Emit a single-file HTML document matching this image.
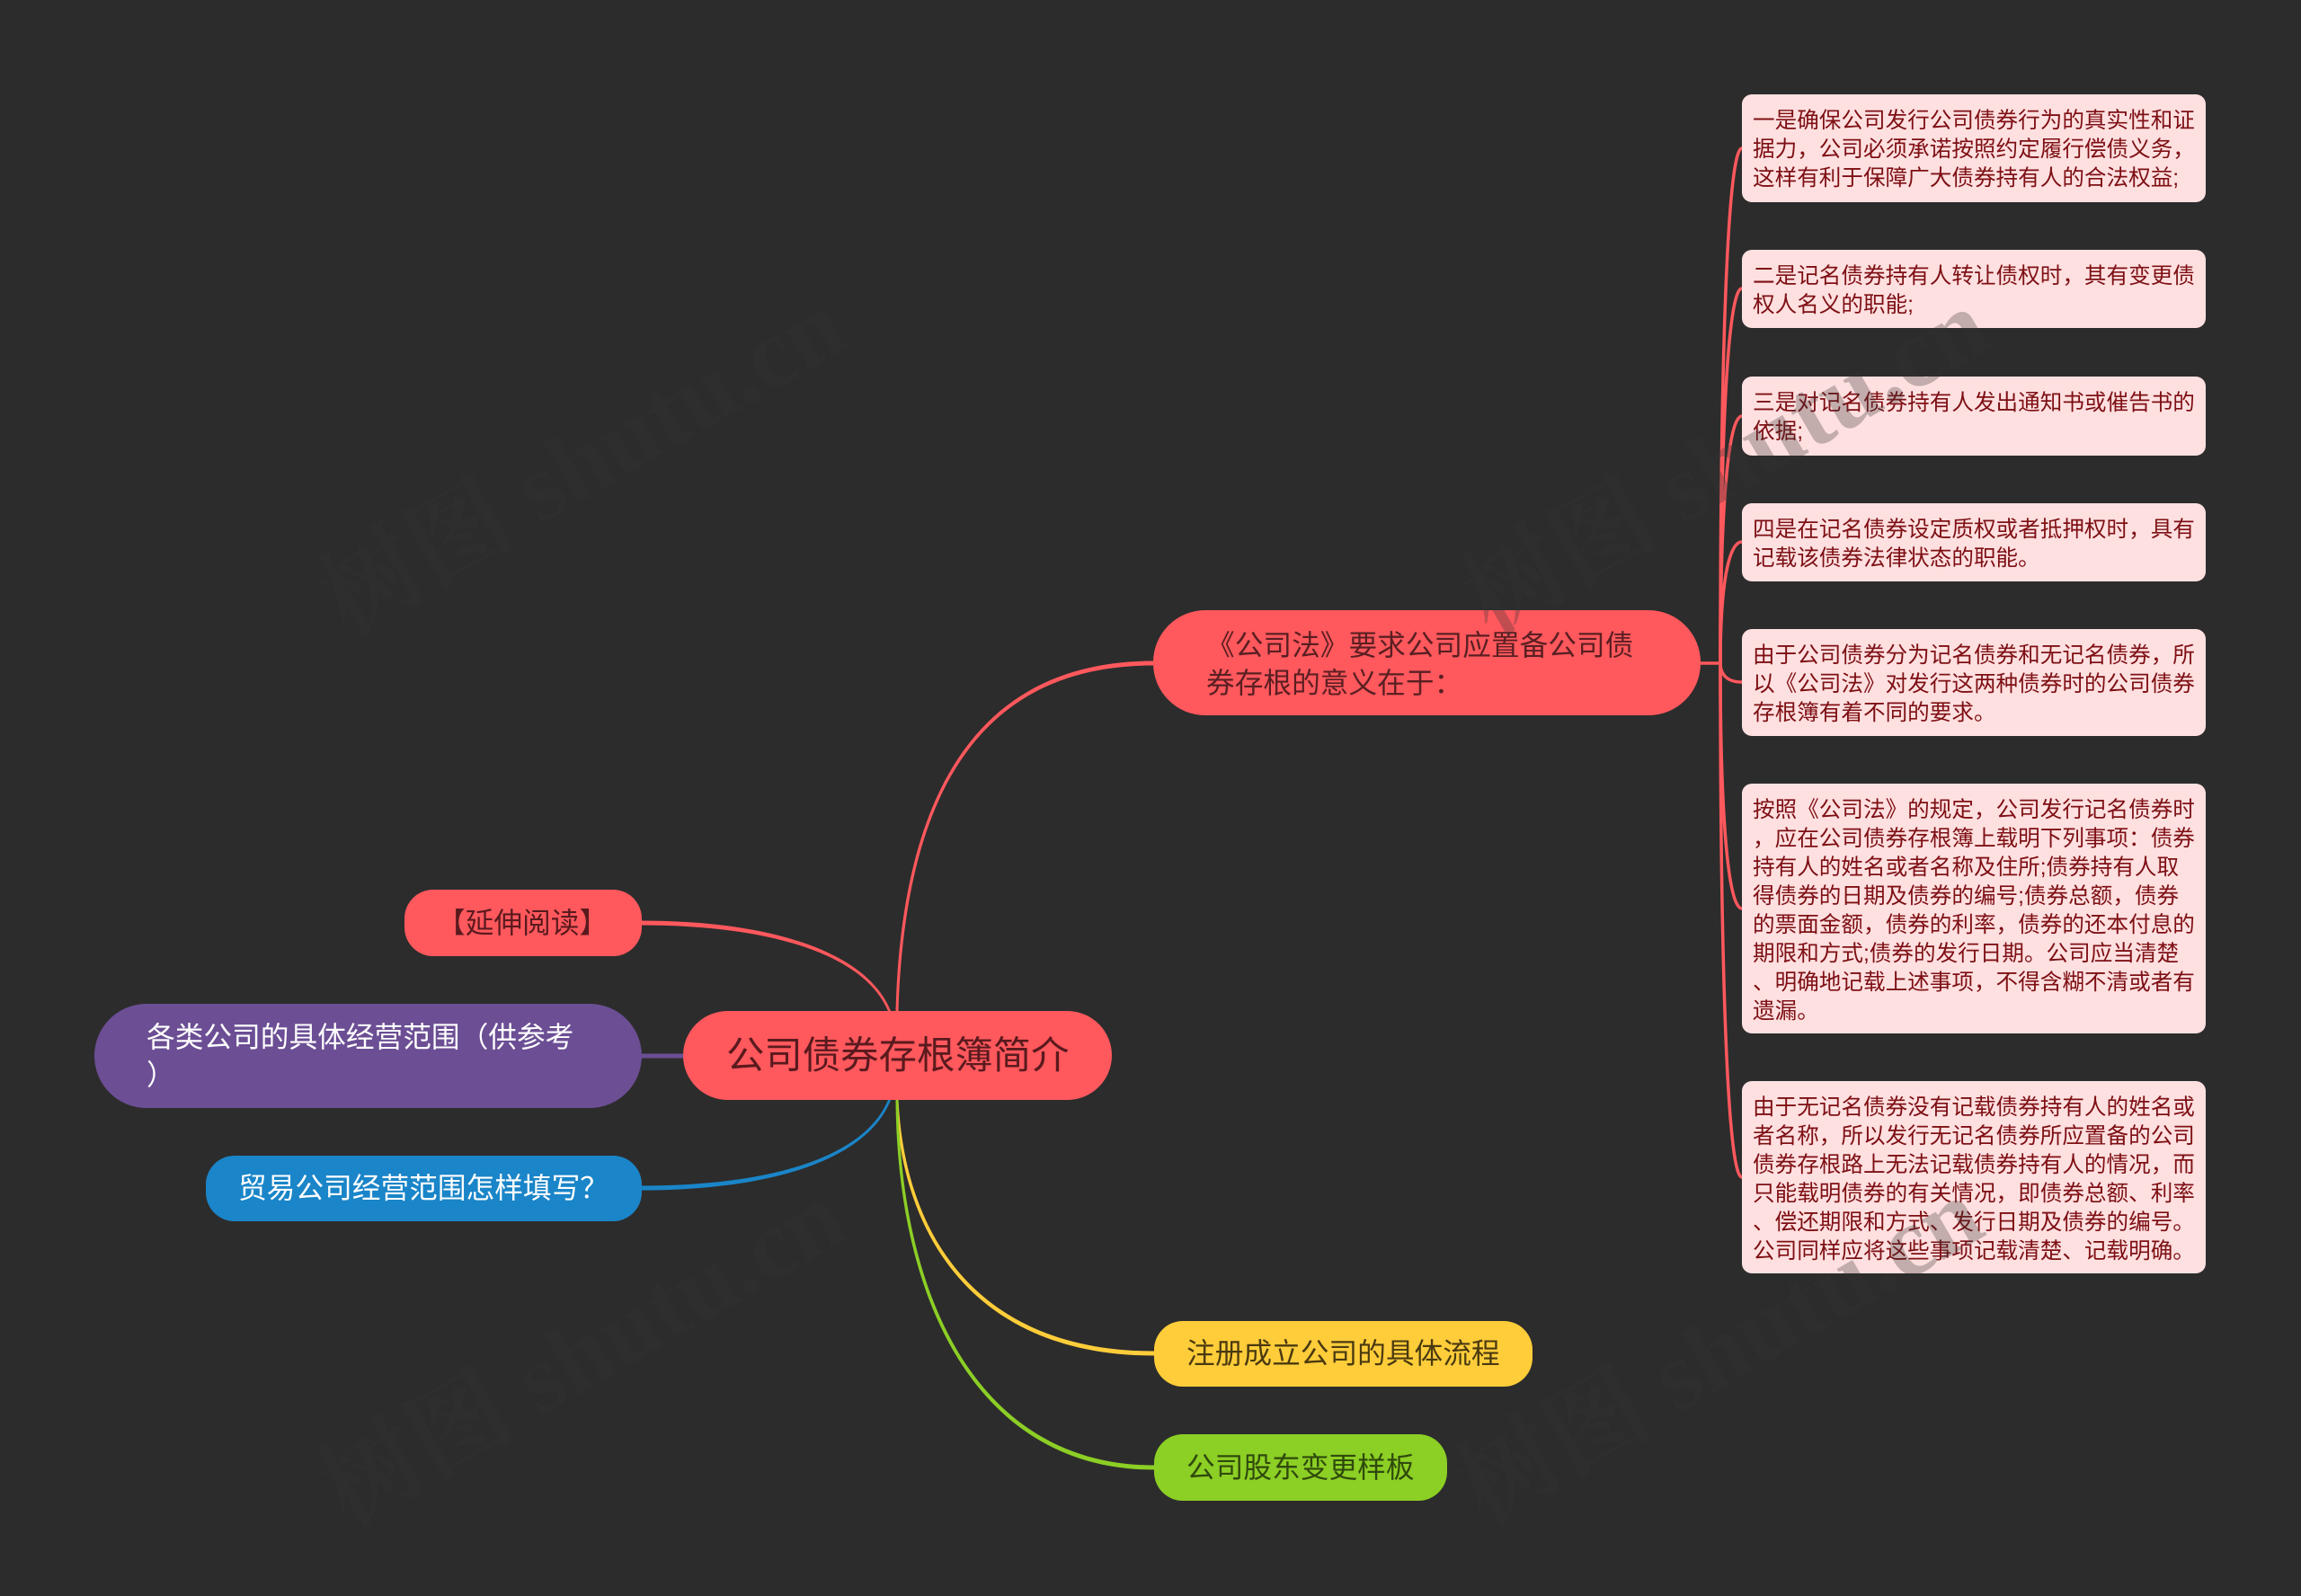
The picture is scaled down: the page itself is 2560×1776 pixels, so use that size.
<!DOCTYPE html>
<html lang="zh"><head><meta charset="utf-8"><title>公司债券存根簿简介</title>
<style>
html,body{margin:0;padding:0;background:#2c2c2c}
#p{position:relative;width:2560px;height:1776px;overflow:hidden;background:#2c2c2c;font-family:"Liberation Sans","Noto Sans CJK SC",sans-serif}
.n{position:absolute;box-sizing:border-box;white-space:nowrap;font-size:31.7px;line-height:42px}
.l{position:absolute;box-sizing:border-box;left:1938px;width:516px;background:#ffe0e0;border-radius:11px;padding:14px 0 0 12px;font-size:24.6px;line-height:32px;color:#7d0f14;white-space:nowrap}
svg{position:absolute;left:0;top:0}
</style></head><body><div id="p">
<svg width="2560" height="1776" viewBox="0 0 2560 1776">
<g fill="#ff585d">
<path d="M996.5 1125C1003 880 1090 735.5 1283 735.5L1283 740.5C1092 740.5 1007 880 999.5 1125Z"/>
<path d="M713 1024.5C860 1024.5 965 1060 991 1125L988 1125C962 1063 860 1029.5 713 1029.5Z"/>
</g>
<path d="M713 1319.5C860 1319.5 962 1287 988 1224L991 1224C965 1290 860 1324.5 713 1324.5Z" fill="#1a85c8"/>
<rect x="713" y="1172.5" width="47" height="5" fill="#6b4e94"/>
<path d="M996.5 1224C1003 1382 1090 1508.5 1284 1508.5L1284 1503.5C1092 1503.5 1007 1380 999.5 1224Z" fill="#ffcd3a"/>
<path d="M996.5 1224C998 1452 1090 1635.5 1284 1635.5L1284 1630.5C1092 1630.5 1002 1450 999.5 1224Z" fill="#8ccf25"/>
<g fill="none" stroke="#ff585d" stroke-width="3.5">
<path d="M1892 738H1914"/>
<path d="M1914 738C1914 395 1922 165 1938 165"/>
<path d="M1914 738C1914 488 1922 321 1938 321"/>
<path d="M1914 738C1914 573 1922 463 1938 463"/>
<path d="M1914 738C1914 657 1922 603 1938 603"/>
<path d="M1914 738C1914 751 1922 759 1938 759"/>
<path d="M1914 738C1914 902 1922 1011 1938 1011"/>
<path d="M1914 738C1914 1081 1922 1310 1938 1310"/>
</g>
</svg>

<div class="n" style="left:760px;top:1125px;width:477px;height:99px;border-radius:50px;background:#ff585d;color:#5a1a1e;font-size:42.4px;line-height:100px;padding-left:48px">公司债券存根簿简介</div>
<div class="n" style="left:1283px;top:679px;width:609px;height:117px;border-radius:58px;background:#ff585d;color:#5a1f22;padding:18px 0 0 59px">《公司法》要求公司应置备公司债<br>券存根的意义在于：</div>
<div class="n" style="left:450px;top:990px;width:264px;height:74px;border-radius:32px;background:#ff585d;color:#5a1a1e;line-height:74px;padding-left:36px">【延伸阅读】</div>
<div class="n" style="left:105px;top:1117px;width:609px;height:116px;border-radius:58px;background:#6b4e94;color:#fff;padding:16px 0 0 58px">各类公司的具体经营范围（供参考<br>）</div>
<div class="n" style="left:229px;top:1286px;width:485px;height:73px;border-radius:32px;background:#1a85c8;color:#fff;line-height:73px;padding-left:36px">贸易公司经营范围怎样填写？</div>
<div class="n" style="left:1284px;top:1470px;width:421px;height:73px;border-radius:32px;background:#ffcd3a;color:#4a3a10;line-height:73px;padding-left:36px">注册成立公司的具体流程</div>
<div class="n" style="left:1284px;top:1596px;width:326px;height:74px;border-radius:32px;background:#8ccf25;color:#2f4a0c;line-height:74px;padding-left:36px">公司股东变更样板</div>

<div class="l" style="top:105px;height:120px">一是确保公司发行公司债券行为的真实性和证<br>据力，公司必须承诺按照约定履行偿债义务，<br>这样有利于保障广大债券持有人的合法权益;</div>
<div class="l" style="top:278px;height:87px">二是记名债券持有人转让债权时，其有变更债<br>权人名义的职能;</div>
<div class="l" style="top:419px;height:88px">三是对记名债券持有人发出通知书或催告书的<br>依据;</div>
<div class="l" style="top:560px;height:87px">四是在记名债券设定质权或者抵押权时，具有<br>记载该债券法律状态的职能。</div>
<div class="l" style="top:700px;height:119px">由于公司债券分为记名债券和无记名债券，所<br>以《公司法》对发行这两种债券时的公司债券<br>存根簿有着不同的要求。</div>
<div class="l" style="top:872px;height:278px">按照《公司法》的规定，公司发行记名债券时<br>，应在公司债券存根簿上载明下列事项：债券<br>持有人的姓名或者名称及住所;债券持有人取<br>得债券的日期及债券的编号;债券总额，债券<br>的票面金额，债券的利率，债券的还本付息的<br>期限和方式;债券的发行日期。公司应当清楚<br>、明确地记载上述事项，不得含糊不清或者有<br>遗漏。</div>
<div class="l" style="top:1203px;height:214px">由于无记名债券没有记载债券持有人的姓名或<br>者名称，所以发行无记名债券所应置备的公司<br>债券存根路上无法记载债券持有人的情况，而<br>只能载明债券的有关情况，即债券总额、利率<br>、偿还期限和方式、发行日期及债券的编号。<br>公司同样应将这些事项记载清楚、记载明确。</div>

<svg width="2560" height="1776" viewBox="0 0 2560 1776" style="pointer-events:none">
<g font-family="'Liberation Serif','Noto Serif CJK SC',serif" font-size="110" font-weight="700" fill="#363636" fill-opacity=".3">
<text transform="translate(386 708) rotate(-30)">树图 shutu.cn</text>
<text transform="translate(1658 708) rotate(-30)">树图 shutu.cn</text>
<text transform="translate(386 1700) rotate(-30)">树图 shutu.cn</text>
<text transform="translate(1651 1697) rotate(-30)">树图 shutu.cn</text>
</g>
</svg>
</div></body></html>
